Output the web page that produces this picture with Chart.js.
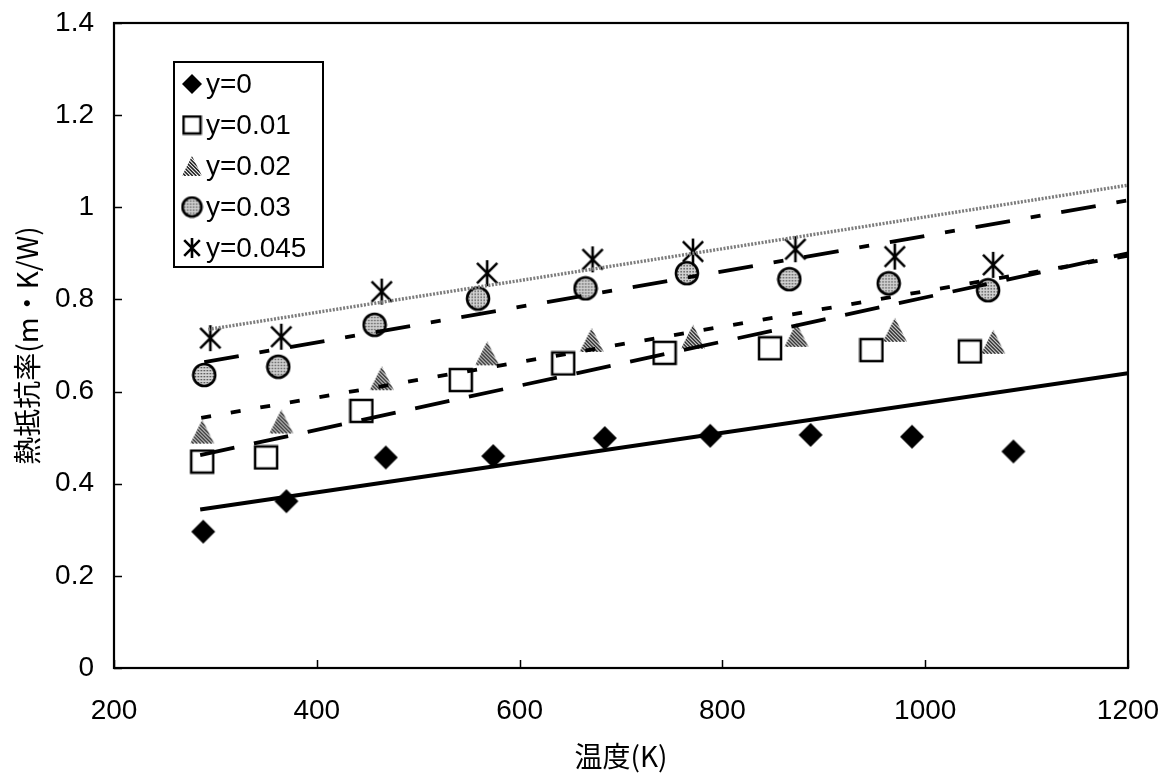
<!DOCTYPE html>
<html lang="ja">
<head>
<meta charset="utf-8">
<title>熱抵抗率と温度</title>
<script src="https://cdn.jsdelivr.net/npm/chart.js@4.4.1/dist/chart.umd.min.js"></script>
<style>
  html, body { margin: 0; padding: 0; background: #fff; }
  #chart { display: block; }
</style>
</head>
<body>
<canvas id="chart" width="1166" height="778"></canvas>
<script>
// 系列名 (組成 y)
const seriesLabels = ["y=0", "y=0.01", "y=0.02", "y=0.03", "y=0.045"];

// 測定温度 (K) と熱抵抗率 (m・K/W)
const tempY0 = [288, 370, 468, 574, 684, 788, 887, 987, 1087];
const resY0 = [0.296, 0.362, 0.457, 0.460, 0.499, 0.504, 0.506, 0.502, 0.470];

const tempY001 = [287, 350, 444, 542, 643, 743, 847, 947, 1044];
const resY001 = [0.448, 0.457, 0.558, 0.625, 0.661, 0.684, 0.694, 0.690, 0.687];

const tempY002 = [287, 365, 464, 568, 671, 771, 873, 970, 1067];
const resY002 = [0.513, 0.535, 0.629, 0.683, 0.712, 0.719, 0.723, 0.734, 0.708];

const tempY003 = [289, 362, 457, 559, 665, 765, 866, 964, 1062];
const resY003 = [0.636, 0.654, 0.745, 0.802, 0.824, 0.857, 0.844, 0.835, 0.820];

const tempY0045 = [295, 365, 464, 568, 672, 771, 872, 970, 1067];
const resY0045 = [0.716, 0.719, 0.817, 0.857, 0.887, 0.904, 0.909, 0.893, 0.875];

// 近似直線の両端 (始点温度 → 1200 K)
const fitStartT = [285, 285, 286, 289, 293];
const fitStartR = [0.344, 0.462, 0.543, 0.664, 0.735];
const fitEndT = [1200, 1200, 1200, 1200, 1200];
const fitEndR = [0.640, 0.900, 0.895, 1.015, 1.048];

const temps = [tempY0, tempY001, tempY002, tempY003, tempY0045];
const resist = [resY0, resY001, resY002, resY003, resY0045];

// ---- マーカー画像 ----
function makeCanvas(w, h, draw) {
  const c = document.createElement("canvas");
  c.width = w;
  c.height = h;
  const g = c.getContext("2d");
  g.translate(w / 2, h / 2);
  draw(g);
  return c;
}

function diamond(r) {
  return makeCanvas(2 * r + 2, 2 * r + 2, g => {
    g.beginPath();
    g.moveTo(0, -r); g.lineTo(r, 0); g.lineTo(0, r); g.lineTo(-r, 0);
    g.closePath();
    g.fillStyle = "#000";
    g.fill();
  });
}

function square(s) {
  return makeCanvas(2 * s + 4, 2 * s + 4, g => {
    g.fillStyle = "#fff";
    g.fillRect(-s, -s, 2 * s, 2 * s);
    g.strokeStyle = "#000";
    g.lineWidth = 2.5;
    g.strokeRect(-s, -s, 2 * s, 2 * s);
  });
}

function triangle(s) {
  return makeCanvas(2 * s + 2, 2 * s + 2, g => {
    g.beginPath();
    g.moveTo(0, -s); g.lineTo(s, s); g.lineTo(-s, s);
    g.closePath();
    g.save();
    g.clip();
    g.strokeStyle = "#222";
    g.lineWidth = 1.6;
    g.beginPath();
    for (let k = -3 * s; k < 3 * s; k += 3.6) {
      g.moveTo(k, -s);
      g.lineTo(k + 2 * s, s);
    }
    g.stroke();
    g.restore();
  });
}

function dottedCircle(r) {
  return makeCanvas(2 * r + 4, 2 * r + 4, g => {
    g.beginPath();
    g.arc(0, 0, r, 0, Math.PI * 2);
    g.fillStyle = "#d4d4d4";
    g.fill();
    g.save();
    g.clip();
    g.fillStyle = "#333";
    for (let yy = -r; yy <= r; yy += 3) {
      for (let xx = -r + ((yy / 3) % 2 ? 1.5 : 0); xx <= r; xx += 3) {
        g.fillRect(xx, yy, 1.3, 1.3);
      }
    }
    g.restore();
    g.beginPath();
    g.arc(0, 0, r, 0, Math.PI * 2);
    g.strokeStyle = "#000";
    g.lineWidth = 2.6;
    g.stroke();
  });
}

function asterisk(r) {
  return makeCanvas(2 * r + 4, 2 * r + 4, g => {
    const d = r * 0.78;
    g.strokeStyle = "#000";
    g.lineWidth = 2.6;
    g.beginPath();
    g.moveTo(0, -r); g.lineTo(0, r);
    g.moveTo(-d, -d); g.lineTo(d, d);
    g.moveTo(d, -d); g.lineTo(-d, d);
    g.stroke();
  });
}

const markers = [diamond(12), square(11), triangle(12), dottedCircle(11), asterisk(13)];
const legendMarkers = [diamond(10), square(8.5), triangle(10), dottedCircle(9.5), asterisk(10)];

// 近似直線の線種
const lineStyles = [
  { color: "#000", width: 4, dash: [] },
  { color: "#000", width: 3.8, dash: [35, 20] },
  { color: "#000", width: 3.8, dash: [10, 20] },
  { color: "#000", width: 3.8, dash: [35, 21, 10, 21] },
  { color: "#7c7c7c", width: 3.4, dash: [2, 1.5] }
];

const datasets = [];
seriesLabels.forEach((label, i) => {
  datasets.push({
    type: "line",
    label: label + " fit",
    data: [{ x: fitStartT[i], y: fitStartR[i] }, { x: fitEndT[i], y: fitEndR[i] }],
    borderColor: lineStyles[i].color,
    borderWidth: lineStyles[i].width,
    borderDash: lineStyles[i].dash,
    borderCapStyle: "butt",
    pointRadius: 0,
    fill: false,
    tension: 0,
    order: 0
  });
});
seriesLabels.forEach((label, i) => {
  datasets.push({
    type: "scatter",
    label: label,
    data: temps[i].map((t, k) => ({ x: t, y: resist[i][k] })),
    pointStyle: markers[i],
    pointRadius: 12,
    order: 1
  });
});

const numFont = { family: "'Liberation Sans', Arial, sans-serif", size: 28 };
const jpFont = { family: "'Noto Sans CJK JP', sans-serif", size: 28 };

// 枠線と内向きの目盛
const frame = {
  id: "frame",
  afterDatasetsDraw(chart) {
    const { ctx, chartArea: a, scales: { x, y } } = chart;
    ctx.save();
    ctx.strokeStyle = "#000";
    ctx.lineWidth = 2.2;
    ctx.strokeRect(a.left, a.top, a.right - a.left, a.bottom - a.top);
    ctx.lineWidth = 1.5;
    ctx.beginPath();
    x.ticks.forEach(t => {
      const px = Math.round(x.getPixelForValue(t.value)) + 0.5;
      ctx.moveTo(px, a.bottom);
      ctx.lineTo(px, a.bottom - 8);
    });
    y.ticks.forEach(t => {
      const py = Math.round(y.getPixelForValue(t.value)) + 0.5;
      ctx.moveTo(a.left, py);
      ctx.lineTo(a.left + 8, py);
    });
    ctx.stroke();
    ctx.restore();
  }
};

// 凡例 (枠付き、プロット領域の左上)
const legendBox = {
  id: "legendBox",
  afterDraw(chart) {
    const { ctx, chartArea: a } = chart;
    const left = a.left + 60, top = a.top + 39, w = 149, h = 205;
    ctx.save();
    ctx.fillStyle = "#fff";
    ctx.fillRect(left, top, w, h);
    ctx.strokeStyle = "#000";
    ctx.lineWidth = 2;
    ctx.strokeRect(left, top, w, h);
    ctx.font = "28px 'Liberation Sans', Arial, sans-serif";
    ctx.fillStyle = "#000";
    ctx.textBaseline = "middle";
    seriesLabels.forEach((label, i) => {
      const cy = top + 22 + i * 41;
      const m = legendMarkers[i];
      ctx.drawImage(m, left + 18 - m.width / 2, cy - m.height / 2);
      ctx.fillText(label, left + 32, cy + 1);
    });
    ctx.restore();
  }
};

new Chart(document.getElementById("chart"), {
  type: "scatter",
  data: { datasets },
  options: {
    responsive: false,
    animation: false,
    devicePixelRatio: 1,
    layout: { padding: { top: 23, right: 38, left: 0, bottom: 0 } },
    plugins: { legend: { display: false }, tooltip: { enabled: false } },
    scales: {
      x: {
        type: "linear",
        min: 200,
        max: 1200,
        ticks: {
          stepSize: 200,
          color: "#000",
          font: numFont,
          padding: 26,
          maxRotation: 0,
          callback: v => String(v)
        },
        grid: { display: false, drawTicks: false },
        border: { display: false },
        title: { display: true, text: "温度(K)", color: "#000", font: jpFont, padding: { top: 0, bottom: 5 } },
        afterFit(scale) {
          scale.height = 110;
          scale.paddingLeft = 0;
          scale.paddingRight = 0;
        }
      },
      y: {
        min: 0,
        max: 1.4,
        ticks: {
          stepSize: 0.2,
          color: "#000",
          font: numFont,
          padding: 20,
          callback: v => String(+v.toFixed(1))
        },
        grid: { display: false, drawTicks: false },
        border: { display: false },
        title: { display: true, text: "熱抵抗率(m・K/W)", color: "#000", font: jpFont, padding: { top: 11, bottom: 0 } },
        afterFit(scale) {
          scale.width = 114;
          scale.paddingTop = 0;
          scale.paddingBottom = 0;
        }
      }
    }
  },
  plugins: [frame, legendBox]
});
</script>
</body>
</html>
